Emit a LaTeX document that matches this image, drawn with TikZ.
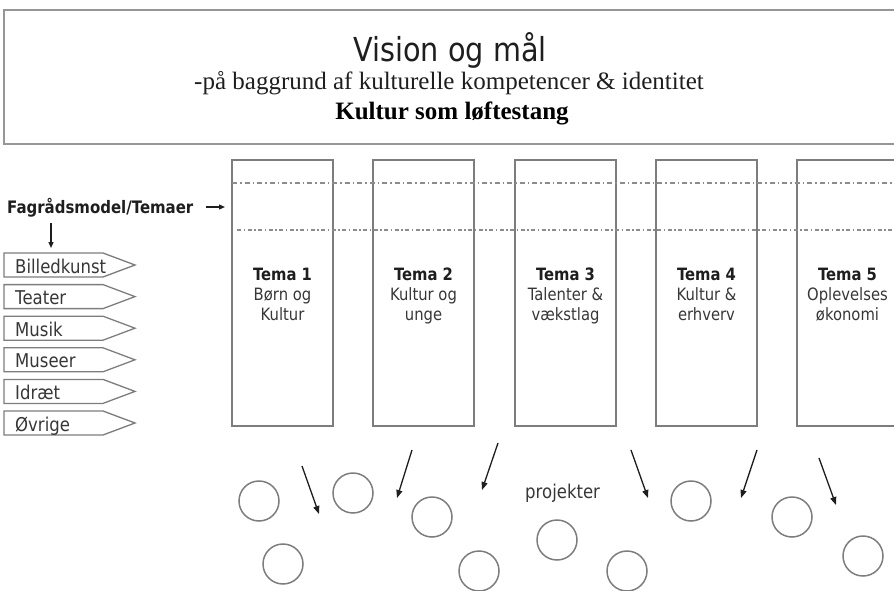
\documentclass[tikz,border=0pt]{standalone}
\usepackage{fontspec}
\setmainfont{Liberation Serif}
\newfontfamily\tah[FakeStretch=0.87]{DejaVu Sans}
\usetikzlibrary{arrows.meta}
\definecolor{framegray}{RGB}{150,150,150}
\definecolor{boxgray}{RGB}{125,125,125}
\definecolor{dashgray}{RGB}{140,140,140}
\definecolor{inkdark}{RGB}{30,30,30}
\definecolor{inkmid}{RGB}{55,55,55}
\tikzset{
  topframe/.style={draw=framegray, line width=2.2pt},
  temabox/.style={draw=boxgray, line width=1.8pt},
  dashone/.style={draw=dashgray, line width=1.1pt, dash pattern=on 5pt off 3pt on 1.5pt off 3pt},
  dashtwo/.style={draw=dashgray, line width=1.1pt, dash pattern=on 4pt off 2.5pt on 1.5pt off 2.5pt},
  tagline/.style={draw=boxgray, line width=1.3pt, line join=miter},
  tagtext/.style={inner sep=0pt, text=inkmid, font=\tah\fontsize{19}{22}\selectfont},
  temahead/.style={inner sep=0pt, anchor=base, text=inkdark, font=\tah\bfseries\fontsize{17}{20}\selectfont},
  temaline/.style={inner sep=0pt, anchor=base, text=inkmid, font=\tah\fontsize{17}{20}\selectfont},
  proj/.style={circle, draw=boxgray, line width=1.5pt, minimum size=40pt, inner sep=0pt},
  pointer/.style={draw=inkdark, line width=1.3pt, -{Triangle[length=8pt,width=6pt]}},
  smallpointer/.style={draw=inkdark, line width=1.2pt, -{Triangle[length=6pt,width=5pt]}}
}
\begin{document}
\begin{tikzpicture}[x=1pt,y=-1pt]
\useasboundingbox (0,0) rectangle (894,591);
\clip (0,0) rectangle (894,591);

% top frame
\draw[topframe] (4,10) rectangle (905,144);
\node[inner sep=0pt, anchor=base, font=\tah\fontsize{33}{38}\selectfont, text=inkdark] (title) at (450,62) {Vision og mål};
\node[inner sep=0pt, anchor=base, font=\fontsize{25}{28}\selectfont, text=inkdark] (sub) at (449,90) {-på baggrund af kulturelle kompetencer \& identitet};
\node[inner sep=0pt, anchor=base, font=\bfseries\fontsize{25}{28}\selectfont, text=black] (lever) at (452,120) {Kultur som løftestang};

% theme boxes
\foreach \xl [count=\i] in {232,373,515,656,797}{
  \draw[temabox] (\xl,160) rectangle (\xl+101,426);
}
% dashed lines
\draw[dashone] (232,183) -- (900,183);
\draw[dashtwo] (237,230) -- (900,230);

% theme texts
\foreach \xl/\la/\lb [count=\i] in {232/Børn og/Kultur,373/Kultur og/unge,515/Talenter \&/vækstlag,656/Kultur \&/erhverv,797/Oplevelses/økonomi}{
  \node[temahead] (th\i) at (\xl+50.5,280) {Tema \i};
  \node[temaline] (ta\i) at (\xl+50.5,300) {\la};
  \node[temaline] (tb\i) at (\xl+50.5,320) {\lb};
}

% left column
\node[inner sep=0pt, anchor=base west, text=inkdark, font=\tah\bfseries\fontsize{17.2}{20}\selectfont] (fag) at (7,213) {Fagrådsmodel/Temaer};
\coordinate (fagR1) at (206,207);
\coordinate (fagR2) at (225,207);
\coordinate (fagD1) at (51,223);
\coordinate (fagD2) at (51,248);
\draw[smallpointer] (fagR1) -- (fagR2);
\draw[smallpointer] (fagD1) -- (fagD2);

\foreach \lbl [count=\i from 0] in {Billedkunst,Teater,Musik,Museer,Idræt,Øvrige}{
  \pgfmathsetmacro\ty{253+31.6*\i}
  \draw[tagline] (4,\ty) -- (103,\ty) -- (135,\ty+12) -- (103,\ty+24) -- (4,\ty+24) -- cycle;
  \node[tagtext, anchor=base west] (tag\i) at (15,\ty+20) {\lbl};
}

% project circles
\node[proj] (c1) at (259,501) {};
\node[proj] (c2) at (283,564) {};
\node[proj] (c3) at (353,493) {};
\node[proj] (c4) at (432,517) {};
\node[proj] (c5) at (479,571) {};
\node[proj] (c6) at (557,540) {};
\node[proj] (c7) at (627,571) {};
\node[proj] (c8) at (691,501) {};
\node[proj] (c9) at (792,517) {};
\node[proj] (c10) at (863,556) {};

\node[inner sep=0pt, anchor=base west, text=inkmid, font=\tah\fontsize{19}{22}\selectfont] (projtxt) at (525,498) {projekter};

% arrows towards projects
\coordinate (a1s) at (302,466); \coordinate (a1e) at (319,514);
\coordinate (a2s) at (412,450); \coordinate (a2e) at (397,498);
\coordinate (a3s) at (498,443); \coordinate (a3e) at (482,490);
\coordinate (a4s) at (631,450); \coordinate (a4e) at (648,498);
\coordinate (a5s) at (757,450); \coordinate (a5e) at (741,498);
\coordinate (a6s) at (819,458); \coordinate (a6e) at (836,505);
\foreach \k in {1,...,6}{
  \draw[pointer] (a\k s) -- (a\k e);
}
\end{tikzpicture}
\end{document}
